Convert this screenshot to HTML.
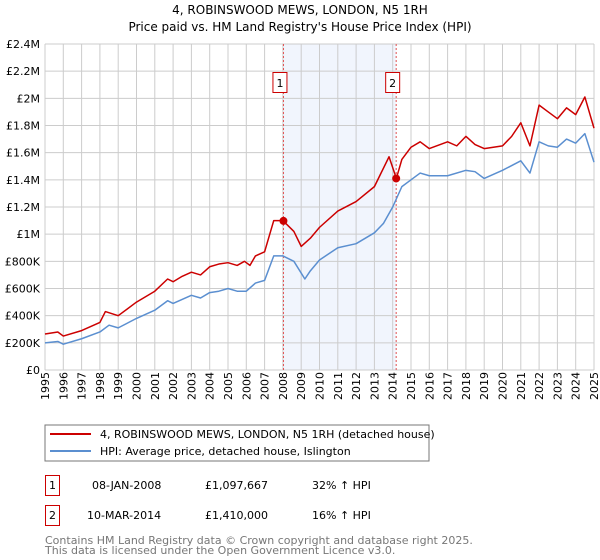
<!DOCTYPE html>
<html><head><meta charset="utf-8"><style>
body{margin:0;background:#fff;width:600px;height:560px;overflow:hidden;font-family:"DejaVu Sans","Liberation Sans",sans-serif;}
svg{position:absolute;left:0;top:0}
text{font-family:"DejaVu Sans","Liberation Sans",sans-serif;}
</style></head><body>
<svg id="chart" width="600" height="560">
<text x="300" y="14" text-anchor="middle" font-size="12" fill="#000">4, ROBINSWOOD MEWS, LONDON, N5 1RH</text>
<text x="300" y="31" text-anchor="middle" font-size="12" fill="#000">Price paid vs. HM Land Registry's House Price Index (HPI)</text>
<g id="grid"></g><g id="marks"></g>
<rect x="45" y="425" width="384" height="36" fill="#fff" stroke="#777"/>
<line x1="50" y1="434" x2="91" y2="434" stroke="#cc0000" stroke-width="2"/>
<text x="100" y="438" font-size="11">4, ROBINSWOOD MEWS, LONDON, N5 1RH (detached house)</text>
<line x1="50" y1="451" x2="91" y2="451" stroke="#5b8fd0" stroke-width="2"/>
<text x="100" y="455" font-size="11">HPI: Average price, detached house, Islington</text>
<rect x="45.5" y="475.5" width="14" height="20" fill="none" stroke="#cc0000"/>
<text x="52.5" y="489" font-size="11" text-anchor="middle">1</text>
<text x="92" y="489" font-size="11">08-JAN-2008</text>
<text x="205" y="489" font-size="11">£1,097,667</text>
<text x="312" y="489" font-size="11">32% ↑ HPI</text>
<rect x="45.5" y="505.5" width="14" height="20" fill="none" stroke="#cc0000"/>
<text x="52.5" y="519" font-size="11" text-anchor="middle">2</text>
<text x="87" y="519" font-size="11">10-MAR-2014</text>
<text x="205" y="519" font-size="11">£1,410,000</text>
<text x="312" y="519" font-size="11">16% ↑ HPI</text>
<text x="45" y="544" font-size="11" fill="#777">Contains HM Land Registry data © Crown copyright and database right 2025.</text>
<text x="45" y="554" font-size="11" fill="#777">This data is licensed under the Open Government Licence v3.0.</text>
</svg>
<script>
const yTicks=[0,0.2,0.4,0.6,0.8,1.0,1.2,1.4,1.6,1.8,2.0,2.2,2.4];
const yLabels=["£0","£200K","£400K","£600K","£800K","£1M","£1.2M","£1.4M","£1.6M","£1.8M","£2M","£2.2M","£2.4M"];
const years=[1995,1996,1997,1998,1999,2000,2001,2002,2003,2004,2005,2006,2007,2008,2009,2010,2011,2012,2013,2014,2015,2016,2017,2018,2019,2020,2021,2022,2023,2024,2025];
const hpiT=[1995,1995.7,1996,1997,1998,1998.5,1999,2000,2001,2001.7,2002,2003,2003.5,2004,2004.5,2005,2005.5,2006,2006.5,2007,2007.5,2008,2008.6,2009.2,2009.5,2010,2011,2012,2013,2013.5,2014,2014.5,2015,2015.5,2016,2017,2018,2018.5,2019,2020,2021,2021.5,2022,2022.5,2023,2023.5,2024,2024.5,2025];
const hpiV=[0.2,0.21,0.19,0.23,0.28,0.33,0.31,0.38,0.44,0.51,0.49,0.55,0.53,0.57,0.58,0.6,0.58,0.58,0.64,0.66,0.84,0.84,0.8,0.67,0.73,0.81,0.9,0.93,1.01,1.08,1.2,1.35,1.4,1.45,1.43,1.43,1.47,1.46,1.41,1.47,1.54,1.45,1.68,1.65,1.64,1.7,1.67,1.74,1.53];
const propT=[1995,1995.7,1996,1997,1998,1998.3,1999,2000,2001,2001.7,2002,2002.5,2003,2003.5,2004,2004.5,2005,2005.5,2005.9,2006.2,2006.5,2007,2007.5,2008,2008.6,2009,2009.5,2010,2011,2012,2013,2013.8,2014.2,2014.5,2015,2015.5,2016,2017,2017.5,2018,2018.5,2019,2020,2020.5,2021,2021.5,2022,2022.5,2023,2023.5,2024,2024.5,2025];
const propV=[0.265,0.28,0.25,0.29,0.35,0.43,0.4,0.5,0.58,0.67,0.65,0.69,0.72,0.7,0.76,0.78,0.79,0.77,0.8,0.77,0.84,0.87,1.1,1.1,1.02,0.91,0.97,1.05,1.17,1.24,1.35,1.57,1.41,1.55,1.64,1.68,1.63,1.68,1.65,1.72,1.66,1.63,1.65,1.72,1.82,1.65,1.95,1.9,1.85,1.93,1.88,2.01,1.78];
const saleT=[2008.03,2014.19];
const saleV=[1.097667,1.41];
const X=t=>45+(t-1995)*(549/30), Y=v=>370-v*(326/2.4);
const NS="http://www.w3.org/2000/svg";
const g=document.getElementById('grid'), m=document.getElementById('marks');
function mk(p,tag,a){const e=document.createElementNS(NS,tag);for(const k in a)e.setAttribute(k,a[k]);p.appendChild(e);return e;}
const shade=mk(g,'rect',{x:X(saleT[0]),y:Y(2.4),width:X(saleT[1])-X(saleT[0]),height:Y(0)-Y(2.4),fill:'#eef3fd',opacity:0.8});


years.forEach(y=>{const l=mk(g,'line',{x1:X(y),x2:X(y),y1:Y(0),y2:Y(2.4),stroke:'#ccc'});


const t=mk(g,'text',{transform:`translate(${X(y)+4},${Y(0)+30}) rotate(-90)`,'font-size':11});t.textContent=y;

});
yTicks.forEach((v,i)=>{const l=mk(g,'line',{x1:X(1995),x2:X(2025),y1:Y(v),y2:Y(v),stroke:'#ccc'});


const t=mk(g,'text',{x:40,y:Y(v)+4,'text-anchor':'end','font-size':11});t.textContent=yLabels[i];

});
saleT.forEach((t,i)=>{const l=mk(m,'line',{x1:X(t),x2:X(t),y1:Y(0),y2:Y(2.4),stroke:'#e05050','stroke-dasharray':'2,2'});


const b=mk(m,'rect',{x:X(t)-10.5,y:72.5,width:14,height:20,fill:'#fff',stroke:'#cc0000'});


const tx=mk(m,'text',{x:X(t)-3.5,y:87,'text-anchor':'middle','font-size':11});tx.textContent=i+1;});
function line(T,V,c,n){const p=mk(m,'polyline',{points:T.map((t,i)=>X(t)+','+Y(V[i])).join(' '),fill:'none',stroke:c,'stroke-width':1.5,'stroke-linejoin':'round'});

}
line(hpiT,hpiV,'#5b8fd0','hpi-line');
line(propT,propV,'#cc0000','property-line');
saleT.forEach((t,i)=>{const c=mk(m,'circle',{cx:X(t),cy:Y(saleV[i]),r:4,fill:'#cc0000'});

});
</script>
</body></html>
